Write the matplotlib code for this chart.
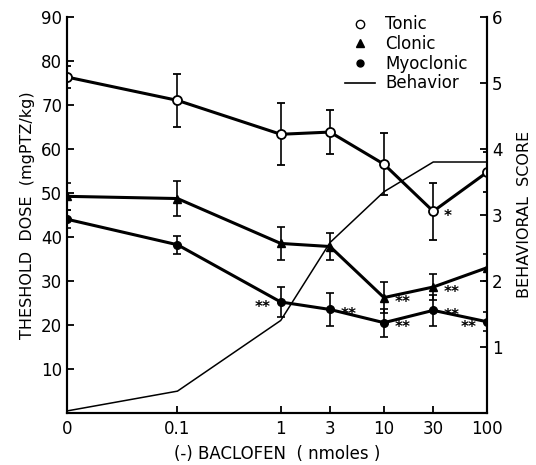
import numpy as np
import matplotlib
matplotlib.use("Agg")
import matplotlib.pyplot as plt
from matplotlib.lines import Line2D

plt.rcParams['font.family'] = ['DejaVu Sans']

# data
dose = [0, 0.1, 1, 3, 10, 30, 100]
dose_labels = ['0', '0.1', '1', '3', '10', '30', '100']

tonic = [76.3, 71.0, 63.3, 63.8, 56.5, 45.8, 54.7]
tonic_err = [2.5, 6.0, 7.0, 5.0, 7.0, 6.5, 4.5]
clonic = [49.2, 48.7, 38.5, 37.8, 26.2, 28.6, 33.0]
clonic_err = [3.0, 4.0, 3.8, 3.0, 3.5, 3.0, 3.0]
myo = [44.0, 38.2, 25.2, 23.5, 20.5, 23.3, 20.7]
myo_err = [2.0, 2.0, 3.5, 3.7, 3.2, 3.5, 2.2]
behavior = [0.03, 0.33, 1.4, 2.58, 3.35, 3.8, 3.8]

# significance marks: (series, index, text, side)
stars = [('tonic', 5, '*', 'r'),
         ('clonic', 4, '**', 'r'), ('clonic', 5, '**', 'r'),
         ('myo', 2, '**', 'l'), ('myo', 3, '**', 'r'), ('myo', 4, '**', 'r'),
         ('myo', 5, '**', 'r'), ('myo', 6, '**', 'l')]

# zero dose is drawn one decade below 0.1
x = np.array([np.log10(d) if d > 0 else -2.07 for d in dose])

fig = plt.figure(figsize=(5.36, 4.65), dpi=100)
ax = fig.add_axes([0.125, 0.112, 0.784, 0.852])
ax2 = ax.twinx()

ax.errorbar(x, tonic, yerr=tonic_err, color='k', lw=2.2, marker='o', ms=6.5,
            mfc='white', mec='k', mew=1.3, capsize=3, elinewidth=1.2, capthick=1.2, zorder=5)
ax.errorbar(x, clonic, yerr=clonic_err, color='k', lw=2.2, marker='^', ms=6,
            capsize=3, elinewidth=1.2, capthick=1.2, zorder=5)
ax.errorbar(x, myo, yerr=myo_err, color='k', lw=2.2, marker='o', ms=5.5,
            capsize=3, elinewidth=1.2, capthick=1.2, zorder=5)
ax2.plot(x, behavior, color='k', lw=1.1)

vals = {'tonic': tonic, 'clonic': clonic, 'myo': myo}
for name, i, s, side in stars:
    dx = 0.1 if side == 'r' else -0.1
    ax.text(x[i] + dx, vals[name][i] - 1.2, s, ha='left' if side == 'r' else 'right',
            va='center', fontsize=11, fontweight='bold')

ax.set_xlim(-2.07, 2.0)
ax.set_ylim(0, 90)
ax2.set_ylim(0, 6)
ax.set_xticks(x)
ax.set_xticklabels(dose_labels)
ax.set_yticks([10, 20, 30, 40, 50, 60, 70, 80, 90])
ax2.set_yticks([1, 2, 3, 4, 5, 6])

for a in (ax, ax2):
    a.spines['top'].set_visible(False)
    a.tick_params(direction='in', length=5, width=1.3, labelsize=12)
    for sp in a.spines.values():
        sp.set_linewidth(1.5)
ax.tick_params(axis='x', pad=5)

ax.set_xlabel('(-) BACLOFEN  ( nmoles )', fontsize=12, labelpad=5)
ax.set_ylabel('THESHOLD  DOSE  (mgPTZ/kg)', fontsize=11.5, labelpad=4)
ax2.set_ylabel('BEHAVIORAL  SCORE', fontsize=11.5, rotation=90, labelpad=10)

handles = [Line2D([], [], ls='none', marker='o', mfc='white', mec='k', ms=6),
           Line2D([], [], ls='none', marker='^', color='k', ms=6),
           Line2D([], [], ls='none', marker='o', color='k', ms=5),
           Line2D([], [], color='k', lw=1.2)]
ax.legend(handles, ['Tonic', 'Clonic', 'Myoclonic', 'Behavior'], loc='upper right',
          bbox_to_anchor=(0.97, 1.02), frameon=False, fontsize=12, handlelength=1.8,
          handletextpad=0.6, labelspacing=0.1, borderaxespad=0)

fig.savefig('out.png', dpi=100)
